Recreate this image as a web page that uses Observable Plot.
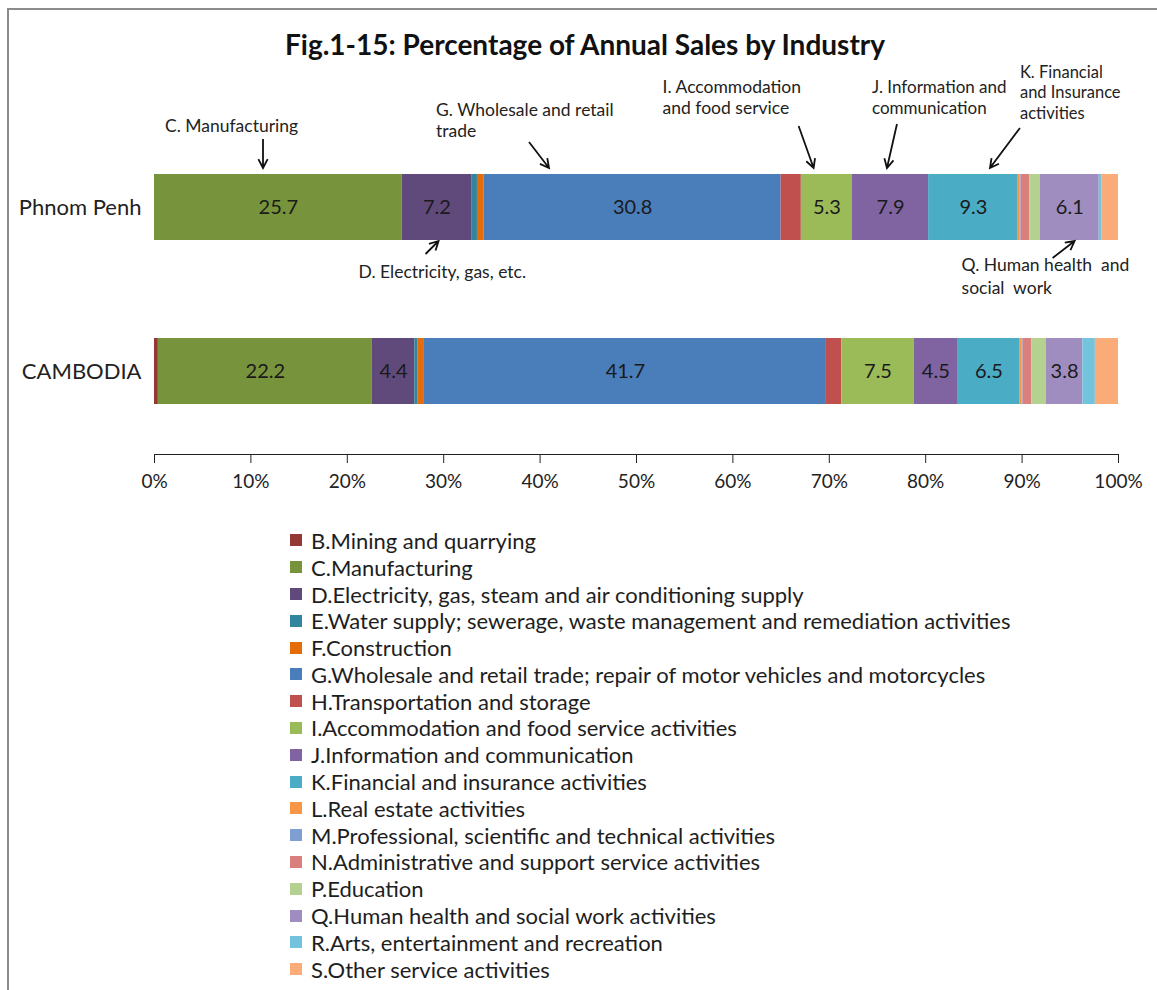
<!DOCTYPE html>
<html>
<head>
<meta charset="utf-8">
<script src="https://cdn.jsdelivr.net/npm/d3@7"></script>
<script src="https://cdn.jsdelivr.net/npm/@observablehq/plot@0.6"></script>
<style>
  body { margin: 0; background: #fff; font-family: Lato, "Open Sans", sans-serif; }
  #frame { position: relative; width: 1157px; height: 990px; overflow: hidden; }
  #border { position: absolute; left: 7px; top: 8px; width: 1200px; height: 1200px;
            border-left: 2px solid #8c8c8c; border-top: 2px solid #8c8c8c; }
  #title { position: absolute; top: 27px; left: 0; width: 1170px; text-align: center;
           font-weight: bold; font-size: 28px; color: #111; }
  #chart { position: absolute; top: 60px; left: 0; }
  #legend { position: absolute; left: 290px; top: 527px; }
  .row { height: 26.8px; display: flex; align-items: center; font-size: 22px; color: #1e1e1e; white-space: nowrap; }
  .sw { width: 12px; height: 12px; margin-right: 9px; flex: none; }
</style>
</head>
<body>
<div id="frame">
  <div id="border"></div>
  <div id="title">Fig.1-15: Percentage of Annual Sales by Industry</div>
  <div id="chart"></div>
  <div id="legend"></div>
</div>
<script>
// ---------- data ----------
const regions = ["Phnom Penh", "CAMBODIA"];
const codes = ["B","C","D","E","F","G","H","I","J","K","L","M","N","P","Q","R","S"];
const industries = [
  "B.Mining and quarrying",
  "C.Manufacturing",
  "D.Electricity, gas, steam and air conditioning supply",
  "E.Water supply; sewerage, waste management and remediation activities",
  "F.Construction",
  "G.Wholesale and retail trade; repair of motor vehicles and motorcycles",
  "H.Transportation and storage",
  "I.Accommodation and food service activities",
  "J.Information and communication",
  "K.Financial and insurance activities",
  "L.Real estate activities",
  "M.Professional, scientific and technical activities",
  "N.Administrative and support service activities",
  "P.Education",
  "Q.Human health and social work activities",
  "R.Arts, entertainment and recreation",
  "S.Other service activities"
];
const phnomPenh = [0.0, 25.7, 7.2, 0.6, 0.7, 30.8, 2.1, 5.3, 7.9, 9.3, 0.2, 0.1, 0.9, 1.1, 6.1, 0.3, 1.7];
const cambodia  = [0.4, 22.2, 4.4, 0.3, 0.7, 41.7, 1.6, 7.5, 4.5, 6.5, 0.2, 0.1, 0.9, 1.5, 3.8, 1.3, 2.4];
const xTicks = [0, 10, 20, 30, 40, 50, 60, 70, 80, 90, 100];
const annotationTexts = [
  {region: "Phnom Penh", code: "C", lines: ["C. Manufacturing"]},
  {region: "Phnom Penh", code: "G", lines: ["G. Wholesale and retail", "trade"]},
  {region: "Phnom Penh", code: "I", lines: ["I. Accommodation", "and food service"]},
  {region: "Phnom Penh", code: "J", lines: ["J. Information and", "communication"]},
  {region: "Phnom Penh", code: "K", lines: ["K. Financial", "and Insurance", "activities"]},
  {region: "Phnom Penh", code: "D", lines: ["D. Electricity, gas, etc."]},
  {region: "Phnom Penh", code: "Q", lines: ["Q. Human health  and", "social  work"]}
];

// ---------- styles ----------
const colors = ["#953735","#77933C","#604A7B","#31859C","#E46C0A","#4A7EBB","#C0504D","#9BBB59",
                "#8064A2","#4BACC6","#F79646","#7F9FD3","#D9807E","#B5D18F","#A08DC0","#74C3DD","#F9AB78"];
// annotation geometry (pixels relative to arrow tip; frac = position within segment)
const annLayout = {
  C: {frac: 0.44, side: "top", tail: [0, -29],  text: [-98, -42],  lh: 21, fs: 17.5},
  G: {frac: 0.22, side: "top", tail: [-20, -26], text: [-113, -58], lh: 21, fs: 17.5},
  I: {frac: 0.25, side: "top", tail: [-15, -42], text: [-151, -81], lh: 21, fs: 17.5},
  J: {frac: 0.46, side: "top", tail: [10, -44],  text: [-15, -81],  lh: 21, fs: 17},
  K: {frac: 0.69, side: "top", tail: [30, -40],  text: [30, -96],   lh: 20.5, fs: 16.5},
  D: {frac: 0.53, side: "bottom", tail: [-13, 13], text: [-80, 31], lh: 21, fs: 17.5},
  Q: {frac: 0.59, side: "bottom", tail: [-22, 17], text: [-113, 24], lh: 23, fs: 17.5}
};

// ---------- table ----------
const series = [phnomPenh, cambodia];
const data = [];
regions.forEach((r, ri) => codes.forEach((c, i) => data.push({region: r, code: c, value: series[ri][i]})));

const plot = Plot.plot({
  width: 1157,
  height: 444,
  marginLeft: 154,
  marginRight: 39,
  marginTop: 63.5,
  marginBottom: 50,
  style: {fontFamily: "Lato, 'Open Sans', sans-serif", fontSize: "19px", color: "#222", background: "transparent", overflow: "visible"},
  x: {domain: [0, 100], ticks: xTicks, tickFormat: d => d + "%", label: null, tickSize: 9, tickPadding: 11, line: true},
  y: {domain: regions, paddingInner: 0.6, paddingOuter: 0.302, label: null, tickSize: 0, tickPadding: 13, fontSize: 22},
  color: {domain: codes, range: colors},
  marks: [
    Plot.barX(data, Plot.stackX({x: "value", y: "region", fill: "code"})),
    Plot.text(data, Plot.stackX({x: "value", y: "region", z: "code",
      text: d => d.value >= 3 ? d.value.toFixed(1) : null, fill: "#1a1a1a", fontSize: 20}))
  ]
});
document.getElementById("chart").appendChild(plot);
// y-axis labels a bit larger than x tick labels
d3.select(plot).selectAll("g[aria-label='y-axis tick label'] text, g[aria-label='y-axis'] text").attr("font-size", 22).style("font-size", "22px");

// ---------- annotations using the plot's scales ----------
const sx = plot.scale("x"), sy = plot.scale("y");
const bw = sy.bandwidth;
const svg = d3.select(plot);
const g = svg.append("g")
  .attr("font-family", "Lato, 'Open Sans', sans-serif")
  .attr("text-anchor", "start")
  .attr("fill", "#222");
function segStart(region, code) {
  const s = series[regions.indexOf(region)];
  return d3.sum(s.slice(0, codes.indexOf(code)));
}
annotationTexts.forEach(a => {
  const L = annLayout[a.code];
  const s = series[regions.indexOf(a.region)][codes.indexOf(a.code)];
  const tx = sx.apply(segStart(a.region, a.code) + L.frac * s);
  const top = sy.apply(a.region);
  const ty = L.side === "top" ? top - 6 : top + bw + 1;
  const x0 = tx + L.tail[0], y0 = ty + L.tail[1];
  const ang = Math.atan2(ty - y0, tx - x0);
  const hl = 10, ha = Math.PI / 6.5;
  const p1 = [tx - hl * Math.cos(ang - ha), ty - hl * Math.sin(ang - ha)];
  const p2 = [tx - hl * Math.cos(ang + ha), ty - hl * Math.sin(ang + ha)];
  g.append("path")
    .attr("d", `M${x0},${y0}L${tx},${ty}M${p1[0]},${p1[1]}L${tx},${ty}L${p2[0]},${p2[1]}`)
    .attr("fill", "none").attr("stroke", "#111").attr("stroke-width", 1.8);
  a.lines.forEach((line, i) => {
    g.append("text")
      .attr("x", tx + L.text[0])
      .attr("y", ty + L.text[1] + i * L.lh)
      .attr("dy", "0.35em")
      .attr("font-size", L.fs)
      .attr("text-anchor", "start")
      .style("white-space", "pre")
      .text(line);
  });
});

// ---------- legend ----------
const legend = document.getElementById("legend");
industries.forEach((name, i) => {
  const row = document.createElement("div");
  row.className = "row";
  const sw = document.createElement("span");
  sw.className = "sw";
  sw.style.background = colors[i];
  const t = document.createElement("span");
  t.textContent = name;
  row.appendChild(sw);
  row.appendChild(t);
  legend.appendChild(row);
});
</script>
</body>
</html>
